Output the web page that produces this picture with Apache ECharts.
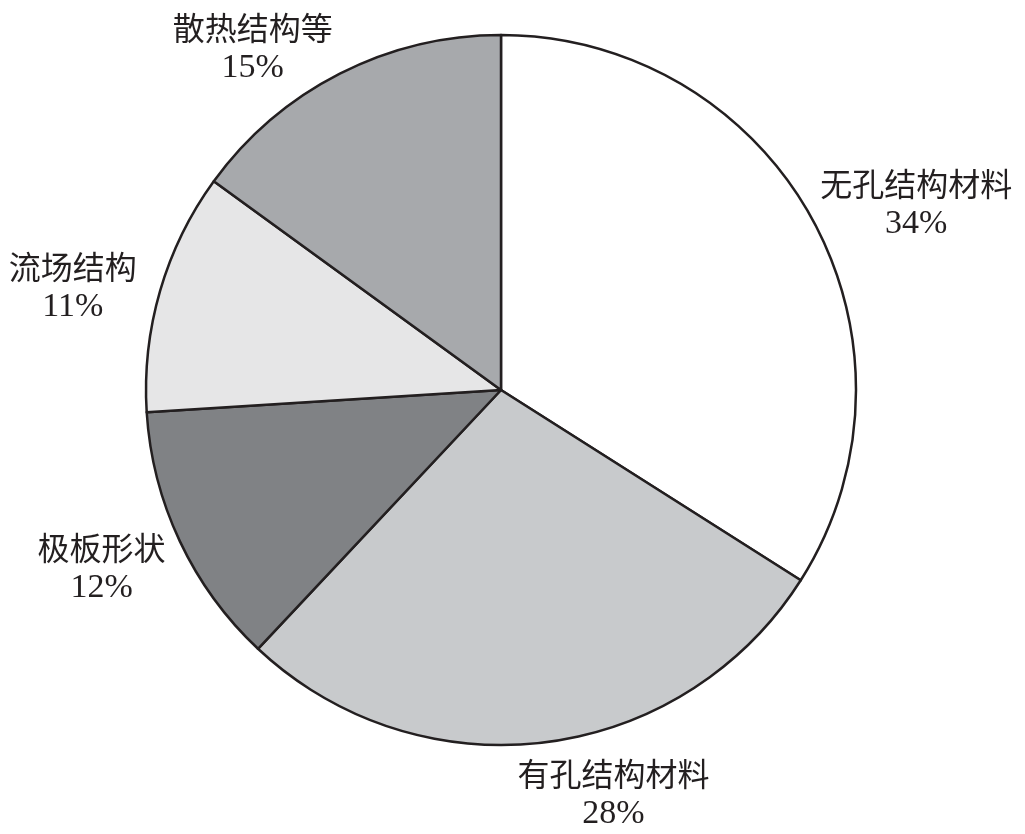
<!DOCTYPE html>
<html>

<head>
  <meta charset="utf-8" />
  <title>ECharts</title>
  <script src="https://cdn.jsdelivr.net/npm/echarts@6.0.0/dist/echarts.min.js"></script>
  <style>
    body {
      margin: 0;
      background-color: #fff;
    }
  </style>
</head>

<body>
  <div id="main" style="width: 1025px;height:834px;"></div>
  <script type="text/javascript">
    // 数据
    var names = ['无孔结构材料', '有孔结构材料', '极板形状', '流场结构', '散热结构等'];
    var values = [34, 28, 12, 11, 15];

    // 样式
    var colors = ['#ffffff', '#c8cacc', '#808285', '#e6e6e7', '#a7a9ac'];
    var labelNudge = [[64, 4], [58, 12], [-37, 10], [-44, 7], [-64, 10]];
    var fontColor = '#231f20';

    var myChart = echarts.init(document.getElementById('main'));

    var pieData = names.map(function (n, i) {
      return { name: n, value: values[i], itemStyle: { color: colors[i] } };
    });

    var option = {
      backgroundColor: '#fff',
      animation: false,
      series: [{
        type: 'pie',
        center: [501, 390],
        radius: 355,
        startAngle: 90,
        clockwise: true,
        avoidLabelOverlap: false,
        data: pieData,
        itemStyle: {
          borderColor: '#231f20',
          borderWidth: 2.5
        },
        emphasis: { disabled: true },
        label: {
          show: true,
          position: 'outside',
          formatter: '{n|{b}}\n{p|{c}%}',
          rich: {
            n: {
              fontFamily: 'Noto Sans CJK SC',
              fontSize: 32,
              color: fontColor,
              lineHeight: 40
            },
            p: {
              fontFamily: 'Liberation Serif',
              fontSize: 34,
              color: fontColor,
              lineHeight: 40
            }
          }
        },
        labelLine: {
          show: false,
          length: 40,
          length2: 0
        },
        labelLayout: function (params) {
          var d = labelNudge[params.dataIndex];
          return { align: 'center', dx: d[0], dy: d[1] };
        }
      }]
    };

    myChart.setOption(option);
  </script>
</body>

</html>
